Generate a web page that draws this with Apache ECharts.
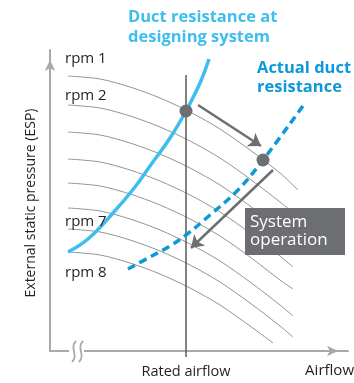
<!DOCTYPE html>
<html>
<head>
<meta charset="utf-8">
<script src="https://cdn.jsdelivr.net/npm/echarts@6/dist/echarts.min.js"></script>
<style>
  html, body { margin: 0; padding: 0; background: #fff; }
  #chart { width: 354px; height: 383px; }
</style>
</head>
<body>
<div id="chart"></div>
<script>
// fan curves, one per rpm step (airflow, static pressure) in arbitrary units
var rpm1 = [[18,275],[50,272],[80,264],[110,253],[140,239],[170,222],[200,201],[230,178],[248,161]];
var rpm2 = [[18,246],[50,243],[80,235],[110,224],[140,210],[170,193],[200,172],[230,149],[246,136]];
var rpm3 = [[18,219],[50,216],[80,208],[110,197],[140,183],[170,166],[200,145],[230,122],[245,109]];
var rpm4 = [[18,192],[50,189],[80,181],[110,170],[140,156],[170,139],[200,118],[230,95],[243,84]];
var rpm5 = [[18,168],[50,165],[80,157],[110,146],[140,132],[170,115],[200,94],[230,71],[243,62]];
var rpm6 = [[18,143],[50,140],[80,132],[110,121],[140,107],[170,90],[200,69],[230,46],[243,35]];
var rpm7 = [[18,122],[50,119],[80,111],[110,100],[140,86],[170,69],[200,48],[230,25],[243,14]];
var rpm8 = [[18,99],[50,96],[80,88],[110,77],[140,63],[170,46],[200,25],[223,8]];
var fanCurves = [rpm1, rpm2, rpm3, rpm4, rpm5, rpm6, rpm7, rpm8];

// duct resistance curves
var designDuct = [[18,99],[38,112],[63,138],[85,164],[100,185],[120,213],[136,240],[150,268],[159,292]];
var actualDuct = [[78,82],[100,94],[120,105],[136,116],[160,136],[188,161],[213,191],[255,248]];

// rated airflow and operating points
var ratedAirflow = 136;
var ratedSpan = [-6, 276];
var operatingPoints = [[136,240],[213,191]];
var moveArrows = [
  [[148,246],[211,205]],
  [[223,181],[141,103]]
];

var chart = echarts.init(document.getElementById('chart'));

var axisColor = '#a7a9ac';
var font = '"Open Sans", sans-serif';

var series = fanCurves.map(function (d) {
  return {
    type: 'line', data: d, smooth: 0.3, showSymbol: false, silent: true,
    lineStyle: { color: '#939393', width: 1 }, z: 1
  };
});

series.push({
  type: 'line', data: ratedSpan.map(function (v) { return [ratedAirflow, v]; }),
  clip: false, showSymbol: false, silent: true,
  lineStyle: { color: '#58595b', width: 1.5 }, z: 2
});
series.push({
  type: 'line', data: designDuct, smooth: 0.4, showSymbol: false, silent: true,
  lineStyle: { color: '#3fbdee', width: 3.5 }, z: 3
});
series.push({
  type: 'line', data: actualDuct, smooth: 0.4, showSymbol: false, silent: true,
  lineStyle: { color: '#0d98d8', width: 3.5, type: [8, 5] }, z: 3
});
series.push({
  type: 'lines', coordinateSystem: 'cartesian2d', silent: true,
  data: moveArrows.map(function (c) { return { coords: c }; }),
  symbol: ['none', 'arrow'], symbolSize: 12,
  lineStyle: { color: '#6d6e71', width: 2.5, opacity: 1, curveness: 0 }, z: 4
});
series.push({
  type: 'scatter', data: operatingPoints, symbolSize: 13, silent: true,
  itemStyle: { color: '#6d6e71', opacity: 1 }, z: 5
});

function txt(x, y, s, style) {
  return {
    type: 'text', x: x, y: y, z: 100,
    style: Object.assign({ text: s, fill: '#231f20', font: '15px ' + font, textVerticalAlign: 'middle' }, style || {})
  };
}

var option = {
  animation: false,
  grid: { left: 50, right: 6, top: 50, bottom: 32 },
  xAxis: {
    type: 'value', min: 0, max: 298,
    axisLine: { show: true, onZero: false, symbol: ['none', 'arrow'], symbolSize: [8, 11],
      symbolOffset: [0, -10], lineStyle: { color: axisColor, width: 2 } },
    axisTick: { show: false }, axisLabel: { show: false }, splitLine: { show: false }
  },
  yAxis: {
    type: 'value', min: 0, max: 301,
    axisLine: { show: true, onZero: false, symbol: ['none', 'arrow'], symbolSize: [8, 11],
      symbolOffset: [0, -10], lineStyle: { color: axisColor, width: 2 } },
    axisTick: { show: false }, axisLabel: { show: false }, splitLine: { show: false }
  },
  series: series,
  graphic: [
    // axis break
    { type: 'rect', z: 100, shape: { x: 69, y: 346, width: 15, height: 10 }, style: { fill: '#fff' } },
    { type: 'bezierCurve', z: 101, shape: { x1: 76, y1: 341, cpx1: 69, cpy1: 348, cpx2: 79, cpy2: 355, x2: 72, y2: 362 },
      style: { stroke: axisColor, lineWidth: 1.8, fill: null } },
    { type: 'bezierCurve', z: 101, shape: { x1: 83, y1: 341, cpx1: 76, cpy1: 348, cpx2: 86, cpy2: 355, x2: 79, y2: 362 },
      style: { stroke: axisColor, lineWidth: 1.8, fill: null } },
    // system operation box
    { type: 'rect', z: 100, shape: { x: 245, y: 208, width: 100, height: 47 }, style: { fill: '#6d6e71' } },
    txt(250, 222, 'System', { fill: '#fff', font: '17px ' + font }),
    txt(250, 240, 'operation', { fill: '#fff', font: '17px ' + font }),
    // titles
    txt(128, 17, 'Duct resistance at', { fill: '#3fbdee', font: 'bold 16.5px ' + font }),
    txt(128, 37, 'designing system', { fill: '#3fbdee', font: 'bold 16.5px ' + font }),
    txt(257, 68, 'Actual duct', { fill: '#0d98d8', font: 'bold 16.5px ' + font }),
    txt(257, 87, 'resistance', { fill: '#0d98d8', font: 'bold 16.5px ' + font }),
    // rpm labels
    txt(65, 59, 'rpm 1'),
    txt(65, 96, 'rpm 2'),
    txt(65, 222, 'rpm 7'),
    txt(65, 273, 'rpm 8'),
    // axis names
    txt(186, 372, 'Rated airflow', { textAlign: 'center', font: '14.5px ' + font }),
    txt(354, 371, 'Airflow', { textAlign: 'right', font: '15px ' + font }),
    { type: 'text', x: 31, y: 203, rotation: Math.PI / 2, z: 100,
      style: { text: 'External static pressure (ESP)', fill: '#231f20', font: '14px ' + font,
        textAlign: 'center', textVerticalAlign: 'middle' } }
  ]
};

chart.setOption(option);
</script>
</body>
</html>
